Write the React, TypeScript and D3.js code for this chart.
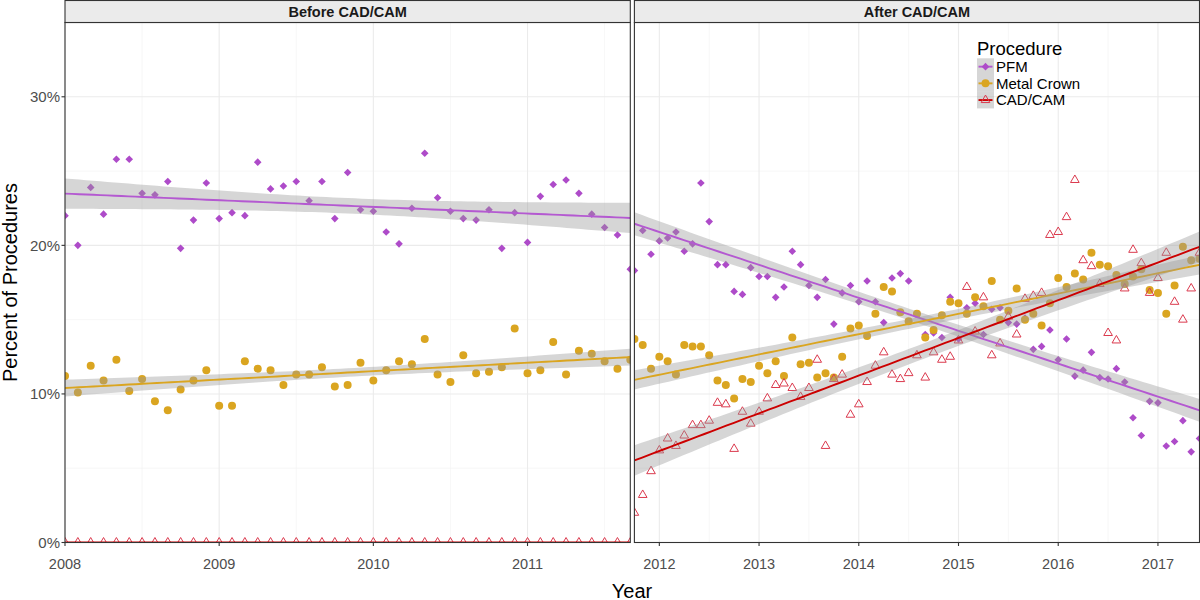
import * as d3 from "d3";
import React from "react";

// monthly share of procedures (%)
const facets = ["Before CAD/CAM", "After CAD/CAM"];
const procedures = ["PFM", "Metal Crown", "CAD/CAM"];

const beforeStart = 2008; // Jan 2008
const afterStart = 2011.75; // Oct 2011

const beforePFM = [
  22.0, 20.0, 23.9, 22.1, 25.8, 25.8, 23.5, 23.4, 24.3, 19.8, 21.7, 24.2,
  21.8, 22.2, 22.0, 25.6, 23.8, 24.0, 24.3, 23.0, 24.3, 21.8, 24.9, 22.4,
  22.3, 20.9, 20.1, 22.5, 26.2, 23.2, 22.3, 21.8, 21.7, 22.4, 19.8, 22.2,
  20.2, 23.3, 24.1, 24.4, 23.5, 22.1, 21.2, 20.7, 18.4,
];
const beforeMetal = [
  11.2, 10.1, 11.9, 10.9, 12.3, 10.2, 11.0, 9.5, 8.9, 10.3, 10.9, 11.6,
  9.2, 9.2, 12.2, 11.7, 11.6, 10.6, 11.3, 11.3, 11.8, 10.5, 10.6, 12.1,
  10.9, 11.6, 12.2, 12.0, 13.7, 11.3, 10.8, 12.6, 11.4, 11.5, 11.8, 14.4,
  11.4, 11.6, 13.5, 11.3, 12.9, 12.7, 12.2, 11.7, 12.3,
];
const beforeCadcam = [
  0, 0, 0, 0, 0, 0, 0, 0, 0, 0, 0, 0,
  0, 0, 0, 0, 0, 0, 0, 0, 0, 0, 0, 0,
  0, 0, 0, 0, 0, 0, 0, 0, 0, 0, 0, 0,
  0, 0, 0, 0, 0, 0, 0, 0, 0,
];

const afterPFM = [
  18.3, 21.0, 19.4, 20.3, 20.5, 20.9, 19.6, 20.1, 24.2, 21.6, 18.7, 18.7,
  16.9, 16.7, 18.5, 17.9, 17.9, 16.5, 17.2, 19.6, 18.7, 17.3, 16.5, 17.7,
  14.7, 16.8, 17.3, 16.2, 17.6, 16.2, 14.8, 17.8, 18.1, 17.6, 15.4, 14.0,
  14.1, 13.8, 16.5, 13.7, 15.8, 16.1, 14.0, 15.7, 15.8, 14.8, 14.7, 15.1,
  13.0, 13.2, 14.3, 12.3, 13.7, 11.2, 11.6, 12.8, 11.1, 11.0, 11.7, 10.8,
  8.4, 7.2, 9.5, 9.4, 6.5, 6.8, 8.2, 6.1, 7.0,
];
const afterMetal = [
  13.7, 13.3, 11.7, 12.5, 12.2, 11.3, 13.3, 13.2, 13.2, 12.6, 10.9, 10.6,
  9.7, 11.0, 10.8, 11.9, 11.4, 12.2, 11.2, 13.8, 12.0, 12.1, 11.1, 11.4,
  11.1, 12.5, 14.4, 14.6, 13.9, 15.4, 17.2, 16.9, 15.5, 14.9, 15.4, 13.8,
  14.3, 15.3, 16.2, 16.1, 15.4, 16.5, 15.9, 17.6, 15.0, 15.6, 17.1, 15.0,
  15.4, 14.6, 16.1, 17.8, 17.2, 18.1, 17.7, 19.5, 18.7, 18.6, 18.0, 17.4,
  17.9, 18.4, 17.0, 16.8, 15.4, 17.3, 19.9, 19.0, 19.1,
];
const afterCadcam = [
  2.0, 3.2, 4.8, 6.2, 7.0, 6.5, 7.2, 7.9, 7.9, 8.2, 9.4, 9.3,
  6.3, 8.8, 8.0, 8.8, 9.7, 10.6, 10.7, 10.4, 9.8, 10.4, 12.3, 6.5,
  11.0, 11.3, 8.6, 9.3, 10.8, 11.9, 12.8, 11.3, 11.0, 11.4, 12.6, 11.1,
  12.8, 12.3, 12.5, 13.6, 17.2, 14.2, 16.5, 12.6, 13.4, 15.2, 14.0, 16.4,
  16.6, 16.8, 20.7, 20.9, 21.9, 24.4, 19.0, 18.6, 17.4, 14.1, 13.6, 17.1,
  19.7, 18.8, 16.8, 17.8, 19.5, 16.2, 15.0, 17.1, 19.5,
];

const beforeYearTicks = [2008, 2009, 2010, 2011];
const afterYearTicks = [2012, 2013, 2014, 2015, 2016, 2017];
const yTicks = [0, 10, 20, 30];
const yMinor = [5, 15, 25];

const pointColor: Record<string, string> = {
  PFM: "#AE4BC9",
  "Metal Crown": "#DAA520",
  "CAD/CAM": "#DB3A4E",
};
const lineColor: Record<string, string> = {
  PFM: "#B459D1",
  "Metal Crown": "#DAA520",
  "CAD/CAM": "#CC0000",
};

const font = "'Liberation Sans', Arial, Helvetica, sans-serif";

const panelTop = 22.5;
const panelBottom = 542.5;
const panels = [
  { name: facets[0], x0: 65, x1: 630.3, start: beforeStart, ticks: beforeYearTicks,
    series: [beforePFM, beforeMetal, beforeCadcam] },
  { name: facets[1], x0: 634.4, x1: 1199.5, start: afterStart, ticks: afterYearTicks,
    series: [afterPFM, afterMetal, afterCadcam] },
];

const y = d3.scaleLinear().domain([0, 35]).range([panelBottom, panelTop]);

// ordinary least squares with a 95% confidence band
function linearFit(xs: number[], ys: number[]) {
  const n = xs.length;
  const mx = d3.mean(xs) as number;
  const my = d3.mean(ys) as number;
  let sxx = 0, sxy = 0;
  xs.forEach((x, i) => { sxx += (x - mx) ** 2; sxy += (x - mx) * (ys[i] - my); });
  const b = sxy / sxx;
  const a = my - b * mx;
  let sse = 0;
  xs.forEach((x, i) => { sse += (ys[i] - (a + b * x)) ** 2; });
  const s = Math.sqrt(sse / (n - 2));
  const t = 1.96 + 2.4 / (n - 2);
  return (x: number) => {
    const fit = a + b * x;
    const se = s * Math.sqrt(1 / n + (x - mx) ** 2 / sxx);
    return { x, fit, lo: fit - t * se, hi: fit + t * se };
  };
}

function Marker({ kind, cx, cy }: { kind: string; cx: number; cy: number }) {
  if (kind === "PFM") {
    const r = 3.8;
    return <path d={`M${cx},${cy - r}L${cx + r},${cy}L${cx},${cy + r}L${cx - r},${cy}Z`} fill={pointColor.PFM} />;
  }
  if (kind === "Metal Crown") {
    return <circle cx={cx} cy={cy} r={4} fill={pointColor["Metal Crown"]} />;
  }
  const r = 5;
  const h = r * Math.sin(Math.PI / 3);
  return (
    <path
      d={`M${cx},${cy - r}L${cx + h},${cy + r / 2}L${cx - h},${cy + r / 2}Z`}
      fill="none"
      stroke={pointColor["CAD/CAM"]}
      strokeWidth={1}
    />
  );
}

function Panel({ p, idx }: { p: (typeof panels)[number]; idx: number }) {
  const n = p.series[0].length;
  const end = p.start + (n - 1) / 12;
  const x = d3.scaleLinear().domain([p.start, end]).range([p.x0, p.x1]);
  const months = d3.range(n).map((i) => p.start + i / 12);
  const minorX = d3.range(Math.ceil(p.start * 2) / 2, end, 0.5).filter((v) => v % 1 !== 0);
  const clipId = `clip-${idx}`;

  const fits = p.series.map((vals) => {
    const f = linearFit(months, vals);
    return d3.range(0, 81).map((k) => f(p.start + ((end - p.start) * k) / 80));
  });
  const area = d3.area<{ x: number; lo: number; hi: number }>()
    .x((d) => x(d.x)).y0((d) => y(d.lo)).y1((d) => y(d.hi));
  const line = d3.line<{ x: number; fit: number }>().x((d) => x(d.x)).y((d) => y(d.fit));

  return (
    <g>
      <defs>
        <clipPath id={clipId}>
          <rect x={p.x0} y={panelTop} width={p.x1 - p.x0} height={panelBottom - panelTop} />
        </clipPath>
      </defs>
      <rect x={p.x0} y={panelTop} width={p.x1 - p.x0} height={panelBottom - panelTop} fill="#fff" />
      {yMinor.map((v) => (
        <line key={`ym${v}`} x1={p.x0} x2={p.x1} y1={y(v)} y2={y(v)} stroke="#F2F2F2" strokeWidth={0.6} />
      ))}
      {minorX.map((v) => (
        <line key={`xm${v}`} x1={x(v)} x2={x(v)} y1={panelTop} y2={panelBottom} stroke="#F2F2F2" strokeWidth={0.6} />
      ))}
      {yTicks.map((v) => (
        <line key={`y${v}`} x1={p.x0} x2={p.x1} y1={y(v)} y2={y(v)} stroke="#EBEBEB" strokeWidth={1.1} />
      ))}
      {p.ticks.map((v) => (
        <line key={`x${v}`} x1={x(v)} x2={x(v)} y1={panelTop} y2={panelBottom} stroke="#EBEBEB" strokeWidth={1.1} />
      ))}
      <g clipPath={`url(#${clipId})`}>
        {p.series.map((vals, si) =>
          vals.map((v, i) => (
            <Marker key={`${si}-${i}`} kind={procedures[si]} cx={x(months[i])} cy={y(v)} />
          ))
        )}
        {fits.map((pts, si) => (
          <g key={`fit${si}`}>
            <path d={area(pts) || ""} fill="#999999" fillOpacity={0.4} />
            <path d={line(pts) || ""} fill="none" stroke={lineColor[procedures[si]]} strokeWidth={1.9} />
          </g>
        ))}
      </g>
      <rect x={p.x0} y={panelTop} width={p.x1 - p.x0} height={panelBottom - panelTop}
        fill="none" stroke="#333333" strokeWidth={1.1} />
      {/* strip */}
      <rect x={p.x0} y={0.5} width={p.x1 - p.x0} height={panelTop - 0.5} fill="#EBEBEB" stroke="#333333" strokeWidth={1.1} />
      <text x={(p.x0 + p.x1) / 2} y={16.5} textAnchor="middle" fontFamily={font} fontWeight="bold"
        fontSize={14.5} fill="#1A1A1A">{p.name}</text>
      {/* x axis */}
      {p.ticks.map((v) => (
        <g key={`xt${v}`}>
          <line x1={x(v)} x2={x(v)} y1={panelBottom} y2={panelBottom + 3.5} stroke="#333333" strokeWidth={1.1} />
          <text x={x(v)} y={568.5} textAnchor="middle" fontFamily={font} fontSize={14.5} fill="#4D4D4D">{v}</text>
        </g>
      ))}
      {idx === 0 && yTicks.map((v) => (
        <g key={`yt${v}`}>
          <line x1={p.x0 - 3.5} x2={p.x0} y1={y(v)} y2={y(v)} stroke="#333333" strokeWidth={1.1} />
          <text x={p.x0 - 5} y={y(v)} dy="0.36em" textAnchor="end" fontFamily={font} fontSize={15} fill="#4D4D4D">{v}%</text>
        </g>
      ))}
    </g>
  );
}

function Legend() {
  const lx = 977;
  const top = 58.3;
  const kh = 16.7;
  return (
    <g>
      <text x={lx} y={55} fontFamily={font} fontSize={18.5} fill="#000">Procedure</text>
      {procedures.map((name, i) => {
        const cy = top + kh * i + kh / 2;
        return (
          <g key={name}>
            <rect x={lx} y={top + kh * i} width={17} height={kh} fill="#999999" fillOpacity={0.4} />
            <line x1={lx + 1.5} x2={lx + 15.5} y1={cy} y2={cy} stroke={lineColor[name]} strokeWidth={1.9} />
            <Marker kind={name} cx={lx + 8.5} cy={cy} />
            <text x={lx + 19} y={cy} dy="0.36em" fontFamily={font} fontSize={15} fill="#000">{name}</text>
          </g>
        );
      })}
    </g>
  );
}

export default function App() {
  return (
    <svg width={1200} height={600} style={{ position: "absolute", left: 0, top: 0, background: "#fff" }}>
      <rect width={1200} height={600} fill="#fff" />
      {panels.map((p, i) => <Panel key={p.name} p={p} idx={i} />)}
      <Legend />
      <text x={632} y={597.5} textAnchor="middle" fontFamily={font} fontSize={20} fill="#000">Year</text>
      <text transform={`translate(16.5, ${(panelTop + panelBottom) / 2}) rotate(-90)`} textAnchor="middle"
        fontFamily={font} fontSize={20} fill="#000">Percent of Procedures</text>
    </svg>
  );
}
